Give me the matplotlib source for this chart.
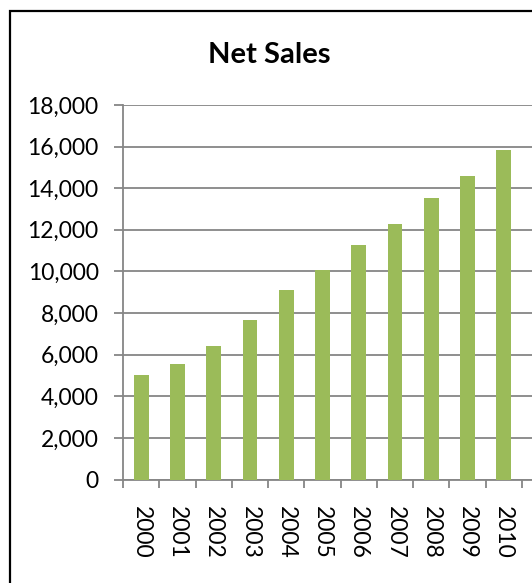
import matplotlib
matplotlib.use("Agg")
import matplotlib.pyplot as plt
from matplotlib.patches import Rectangle
from matplotlib.ticker import FuncFormatter, MultipleLocator
import numpy as np

# data
years = ["2000", "2001", "2002", "2003", "2004", "2005",
         "2006", "2007", "2008", "2009", "2010"]
net_sales = [5020, 5550, 6420, 7670, 9100, 10070,
             11290, 12300, 13510, 14610, 15830]

W, H = 532, 583
plt.rcParams['font.family'] = ['Lato', 'DejaVu Sans']
fig = plt.figure(figsize=(W / 100, H / 100), dpi=100)

# plot area runs past the right edge of the picture (cropped screenshot)
left_px, right_px, top_px, bot_px = 123, 123 + 12 * 36.27, 105, 479.5
ax = fig.add_axes([left_px / W, 1 - bot_px / H,
                   (right_px - left_px) / W, (bot_px - top_px) / H])

x = np.arange(len(years))
ax.bar(x, net_sales, width=0.41, color="#9BBB59", zorder=3)

ax.set_xlim(-0.5, 11.5)
ax.set_ylim(0, 18000)
ax.yaxis.set_major_locator(MultipleLocator(2000))
ax.yaxis.set_major_formatter(FuncFormatter(lambda v, p: f"{int(v):,}"))
ax.set_xticks(x)
ax.set_xticklabels(years, rotation=-90)
ax.set_xticks(np.arange(-0.5, 12, 1), minor=True)

grid_c = "#868686"
ax.grid(axis="y", color=grid_c, linewidth=1.3, zorder=0)
for s in ["top", "right"]:
    ax.spines[s].set_visible(False)
for s in ["left", "bottom"]:
    ax.spines[s].set_color(grid_c)
    ax.spines[s].set_linewidth(1.3)

ax.tick_params(axis="y", length=6.5, width=1.3, color=grid_c, pad=11,
               labelsize=16.5, labelcolor="black")
ax.tick_params(axis="x", which="major", length=0, pad=19,
               labelsize=16.5, labelcolor="black")
ax.tick_params(axis="x", which="minor", length=6, width=1.3, color=grid_c)

fig.text(269 / W, 1 - 63 / H, "Net Sales", ha="center", va="baseline",
         fontsize=21, fontweight="bold")

# chart frame (cropped at right and bottom)
fig.add_artist(Rectangle((10 / W, -0.1), 1.2, 1.1 - 11 / H,
                         transform=fig.transFigure, fill=False,
                         edgecolor="black", linewidth=1.6, clip_on=False))

fig.savefig("out.png", dpi=100)
